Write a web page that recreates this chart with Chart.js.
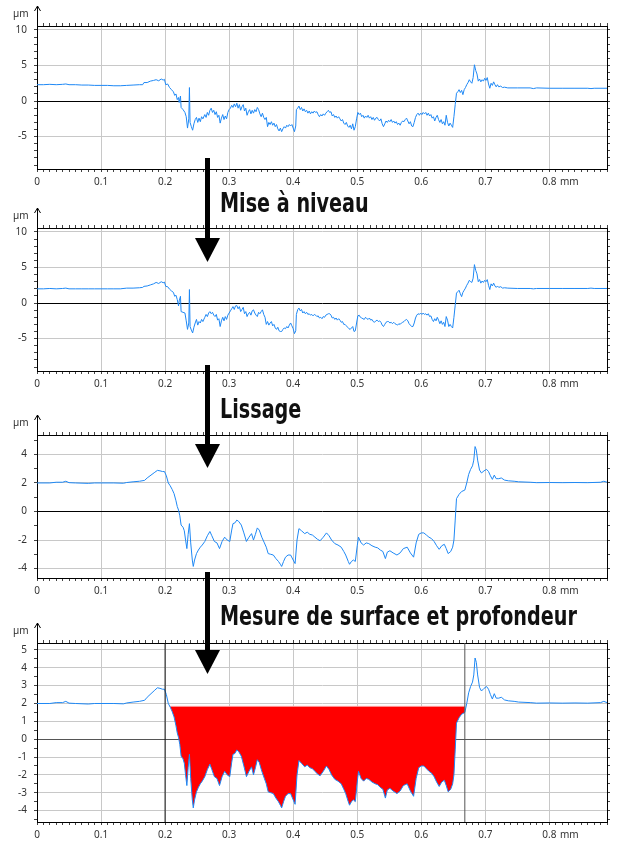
<!DOCTYPE html>
<html>
<head>
<meta charset="utf-8">
<title>Profil de rayure</title>
<script src="https://cdn.jsdelivr.net/npm/chart.js"></script>
<style>
  body { margin: 0; background: #fff; }
  #page { position: relative; width: 622px; height: 843px; overflow: hidden; }
  #page canvas { position: absolute; left: 0; }
  .unit { position: absolute; font: 10px "Noto Sans", sans-serif; line-height: 12px; color: #333; white-space: nowrap; }
  .step { position: absolute; left: 220px; font-family: "Liberation Sans Narrow", "DejaVu Sans Condensed", sans-serif;
          font-weight: bold; font-size: 26px; line-height: 26px; color: #111; white-space: nowrap;
          transform: scaleX(0.82); transform-origin: 0 0; }
  #arrows { position: absolute; left: 0; top: 0; }
</style>
</head>
<body>
<div id="page">
  <canvas id="c1" width="622" height="195" style="top:0px"></canvas>
  <canvas id="c2" width="622" height="195" style="top:202px"></canvas>
  <canvas id="c3" width="622" height="195" style="top:409px"></canvas>
  <canvas id="c4" width="622" height="226" style="top:617px"></canvas>

  <div class="unit" style="left:13px; top:7px">µm</div>
  <div class="unit" style="left:13px; top:209px">µm</div>
  <div class="unit" style="left:13px; top:416px">µm</div>
  <div class="unit" style="left:13px; top:624px">µm</div>
  <div class="unit" style="left:560px; top:175px">mm</div>
  <div class="unit" style="left:560px; top:377px">mm</div>
  <div class="unit" style="left:560px; top:584px">mm</div>
  <div class="unit" style="left:560px; top:828px">mm</div>

  <div class="step" style="top:190px">Mise à niveau</div>
  <div class="step" style="top:396px">Lissage</div>
  <div class="step" style="top:603px">Mesure de surface et profondeur</div>

  <svg id="arrows" width="622" height="843">
    <g fill="#000">
      <rect x="205" y="158" width="5" height="81"/>
      <polygon points="195,238 220,238 207.5,262"/>
      <rect x="205" y="365" width="5" height="80"/>
      <polygon points="195,444 220,444 207.5,468"/>
      <rect x="205" y="572" width="5" height="79"/>
      <polygon points="195,650 220,650 207.5,674"/>
    </g>
  </svg>
</div>

<script>
// raw profile (panels 1 and 2), x in mm
const rawX = [
  0, 0.01, 0.02, 0.03, 0.04, 0.045, 0.05, 0.06, 0.07, 0.08,
  0.09, 0.1, 0.11, 0.12, 0.13, 0.14, 0.15, 0.16, 0.165, 0.167,
  0.172, 0.177, 0.182, 0.186, 0.19, 0.194, 0.197, 0.199, 0.201, 0.204,
  0.207, 0.21, 0.213, 0.215, 0.217, 0.219, 0.221, 0.222, 0.224, 0.225,
  0.228, 0.231, 0.233, 0.235, 0.237, 0.238, 0.239, 0.241, 0.243, 0.245,
  0.247, 0.249, 0.251, 0.253, 0.255, 0.257, 0.259, 0.262, 0.264, 0.266,
  0.268, 0.27, 0.272, 0.274, 0.276, 0.278, 0.28, 0.282, 0.284, 0.286,
  0.288, 0.29, 0.292, 0.294, 0.296, 0.298, 0.3, 0.302, 0.304, 0.306,
  0.308, 0.31, 0.312, 0.314, 0.316, 0.318, 0.32, 0.322, 0.324, 0.326,
  0.328, 0.33, 0.332, 0.334, 0.336, 0.338, 0.34, 0.342, 0.344, 0.346,
  0.348, 0.35, 0.352, 0.354, 0.356, 0.358, 0.36, 0.362, 0.364, 0.366,
  0.368, 0.37, 0.372, 0.374, 0.376, 0.378, 0.38, 0.382, 0.384, 0.386,
  0.388, 0.39, 0.392, 0.394, 0.396, 0.398, 0.4, 0.402, 0.404, 0.405,
  0.407, 0.409, 0.411, 0.413, 0.415, 0.417, 0.419, 0.421, 0.423, 0.425,
  0.427, 0.429, 0.431, 0.433, 0.435, 0.437, 0.439, 0.441, 0.443, 0.445,
  0.447, 0.449, 0.451, 0.453, 0.455, 0.457, 0.459, 0.461, 0.463, 0.465,
  0.467, 0.469, 0.471, 0.473, 0.475, 0.477, 0.479, 0.481, 0.483, 0.485,
  0.487, 0.489, 0.491, 0.493, 0.495, 0.497, 0.499, 0.501, 0.503, 0.505,
  0.507, 0.509, 0.511, 0.513, 0.515, 0.517, 0.519, 0.521, 0.523, 0.525,
  0.527, 0.529, 0.531, 0.533, 0.535, 0.537, 0.539, 0.541, 0.543, 0.545,
  0.547, 0.549, 0.551, 0.553, 0.555, 0.557, 0.559, 0.561, 0.563, 0.565,
  0.567, 0.569, 0.571, 0.573, 0.575, 0.577, 0.579, 0.581, 0.583, 0.585,
  0.587, 0.589, 0.591, 0.593, 0.595, 0.597, 0.599, 0.601, 0.603, 0.605,
  0.607, 0.609, 0.611, 0.613, 0.615, 0.617, 0.619, 0.621, 0.623, 0.625,
  0.627, 0.629, 0.631, 0.633, 0.635, 0.637, 0.639, 0.641, 0.643, 0.645,
  0.647, 0.649, 0.651, 0.653, 0.655, 0.657, 0.659, 0.661, 0.663, 0.665,
  0.667, 0.669, 0.671, 0.673, 0.675, 0.677, 0.679, 0.681, 0.683, 0.685,
  0.687, 0.689, 0.691, 0.693, 0.695, 0.697, 0.699, 0.701, 0.703, 0.705,
  0.707, 0.709, 0.711, 0.713, 0.715, 0.717, 0.719, 0.721, 0.724, 0.727,
  0.73, 0.735, 0.75, 0.77, 0.775, 0.78, 0.8, 0.82, 0.84, 0.86,
  0.865, 0.87, 0.89
];

// height before levelling (µm)
const rawZ = [
  2.3, 2.3, 2.35, 2.3, 2.35, 2.4, 2.3, 2.3, 2.25, 2.25,
  2.2, 2.2, 2.2, 2.15, 2.15, 2.2, 2.25, 2.3, 2.3, 2.6,
  2.6, 2.8, 2.9, 3.0, 2.85, 3.1, 2.95, 3.05, 2.3, 2.4,
  1.9, 1.6, 1.3, 0.8, 1.0, 0.2, 0.5, -0.2, 0.7, -0.9,
  -1.2, -1.6, -2.2, -3.8, -2.5, 1.9, -3.0, -3.6, -4.1, -3.2,
  -2.6, -2.3, -3.0, -2.4, -2.9, -2.2, -2.5, -1.9, -2.3, -1.6,
  -2.0, -1.3, -1.0, -1.6, -1.3, -1.9, -1.5, -2.3, -2.0, -3.1,
  -2.4, -1.9, -2.6, -2.1, -2.5, -1.6, -1.2, -1.0, -0.6, -0.9,
  -0.4, -0.8, -0.3, -1.0, -0.5, -1.3, -0.8, -0.5, -1.4, -1.0,
  -2.0, -1.5, -1.2, -1.8, -1.3, -1.7, -1.2, -1.5, -0.9, -1.2,
  -1.8, -2.2, -1.7, -2.3, -2.6, -2.3, -3.6, -3.0, -3.3, -2.9,
  -3.4, -3.1, -3.6, -3.3, -3.9, -4.2, -3.8, -4.3, -3.9, -3.6,
  -3.8, -3.4, -3.6, -3.3, -3.5, -3.3, -3.8, -4.3, -3.5, -1.2,
  -1.0, -0.7, -1.2, -0.9, -1.4, -1.1, -1.5, -1.3, -1.7, -1.4,
  -1.8, -1.5, -1.7, -1.4, -1.6, -1.5, -1.9, -2.2, -1.9, -2.1,
  -1.8, -2.0, -1.7, -1.5, -1.3, -1.6, -1.5, -2.1, -1.9, -2.3,
  -2.1, -2.4, -2.2, -2.5, -2.8, -2.6, -3.1, -3.3, -3.0, -3.5,
  -3.7, -3.4, -3.9, -3.2, -4.1, -3.6, -2.5, -1.6, -1.9, -1.7,
  -2.2, -2.0, -2.4, -2.1, -2.3, -2.0, -2.4, -2.2, -2.6, -2.3,
  -2.7, -2.4, -2.3, -2.6, -2.8, -2.5, -3.2, -3.6, -3.2, -2.8,
  -3.0, -2.7, -2.9, -2.6, -3.0, -2.8, -3.1, -2.9, -3.3, -3.1,
  -3.4, -3.0, -2.8, -2.9, -2.6, -2.4, -2.8, -3.2, -2.9, -3.5,
  -3.6, -3.0, -2.3, -1.9, -1.7, -2.0, -1.7, -1.9, -1.6, -1.8,
  -1.6, -2.0, -1.7, -2.1, -1.9, -2.4, -2.2, -2.8, -2.3, -2.0,
  -2.6, -3.0, -2.6, -3.2, -2.9, -3.4, -2.0, -3.0, -3.5, -3.1,
  -3.4, -3.7, -2.2, -0.5, 1.1, 1.3, 1.6, 1.2, 1.5, 0.9,
  1.6, 1.9, 2.3, 2.6, 3.0, 2.7, 2.5, 3.3, 5.1, 4.3,
  3.8, 2.8, 3.1, 2.7, 3.0, 2.8, 3.2, 2.9, 3.3, 2.4,
  1.8, 2.5, 2.2, 2.7, 2.3, 2.0, 2.3, 2.0, 2.1, 1.9,
  1.95, 1.85, 1.85, 1.85, 1.75, 1.85, 1.8, 1.8, 1.8, 1.8,
  1.75, 1.8, 1.8
];

// height after levelling (µm)
const levelZ = [
  2.0, 2.0, 2.05, 2.0, 2.05, 2.1, 2.0, 2.0, 2.0, 2.0,
  2.0, 2.0, 2.0, 2.0, 2.0, 2.1, 2.1, 2.15, 2.2, 2.35,
  2.4, 2.55, 2.7, 2.9, 2.75, 3.0, 2.85, 2.95, 2.35, 2.3,
  1.95, 1.7, 1.5, 0.95, 1.1, 0.5, -0.4, 0.3, 0.95, -1.2,
  -1.3, -1.4, -2.5, -3.7, -2.8, 1.9, -3.3, -3.8, -4.2, -3.4,
  -2.8, -2.3, -3.1, -2.6, -2.8, -2.3, -2.6, -2.0, -1.6, -1.9,
  -1.4, -1.2, -1.5, -1.3, -1.7, -1.9, -1.6, -2.4, -2.2, -3.3,
  -2.5, -2.0, -2.5, -1.9, -2.3, -1.7, -1.4, -1.1, -0.8, -0.5,
  -0.9, -0.4, -0.35, -0.8, -0.5, -1.2, -0.9, -0.6, -1.5, -1.2,
  -1.9, -1.5, -1.3, -1.7, -1.1, -0.95, -1.4, -1.7, -1.9, -1.3,
  -1.5, -1.2, -0.95, -1.6, -2.0, -3.0, -2.6, -3.1, -2.8, -2.6,
  -3.2, -3.0, -3.5, -3.7, -3.4, -3.9, -4.0, -4.0, -3.7, -3.5,
  -3.6, -3.3, -3.5, -3.1, -2.8, -3.2, -3.6, -4.3, -3.9, -1.6,
  -0.95, -0.7, -1.1, -0.9, -1.4, -1.2, -1.5, -1.3, -1.6, -1.5,
  -1.7, -1.6, -1.8, -1.6, -1.7, -1.9, -1.8, -2.1, -2.0, -2.2,
  -1.9, -2.0, -1.7, -1.6, -1.5, -1.5, -1.7, -2.1, -2.0, -2.3,
  -2.1, -2.4, -2.2, -2.4, -2.7, -2.6, -3.0, -3.0, -3.2, -3.4,
  -3.6, -3.7, -3.5, -3.3, -4.0, -3.9, -2.8, -1.8, -1.7, -2.0,
  -2.1, -2.2, -2.3, -2.0, -2.2, -2.3, -2.1, -2.4, -2.3, -2.6,
  -2.7, -2.5, -2.4, -2.6, -2.5, -2.7, -3.1, -3.3, -3.0, -2.7,
  -2.6, -2.6, -2.8, -2.7, -2.9, -2.7, -2.9, -3.0, -3.1, -2.9,
  -3.0, -2.8, -2.7, -2.6, -2.4, -2.3, -2.5, -2.9, -3.1, -3.3,
  -3.3, -2.8, -2.1, -1.7, -1.5, -1.6, -1.4, -1.6, -1.4, -1.6,
  -1.5, -1.7, -1.5, -1.9, -1.8, -2.3, -2.6, -2.2, -2.5, -2.0,
  -2.4, -2.9, -2.5, -3.0, -2.7, -3.3, -1.9, -2.4, -3.3, -3.0,
  -3.3, -3.5, -2.0, -0.3, 1.4, 1.6, 1.8, 1.3, 0.9, 1.5,
  1.8, 2.1, 2.5, 2.8, 3.2, 3.0, 2.9, 3.5, 5.4, 4.6,
  4.1, 3.0, 3.3, 2.8, 3.1, 2.9, 3.2, 3.0, 3.3, 2.5,
  1.9, 2.7, 2.4, 2.8, 2.4, 2.2, 2.4, 2.2, 2.3, 2.1,
  2.15, 2.1, 2.05, 2.05, 2.0, 2.05, 2.05, 2.05, 2.05, 2.05,
  2.1, 2.05, 2.05
];

// smoothed profile (panels 3 and 4)
const smoothX = [
  0, 0.02, 0.03, 0.04, 0.045, 0.05, 0.06, 0.08, 0.09, 0.12,
  0.135, 0.14, 0.15, 0.16, 0.168, 0.172, 0.178, 0.184, 0.188, 0.192,
  0.196, 0.199, 0.202, 0.205, 0.208, 0.211, 0.214, 0.217, 0.219, 0.221,
  0.223, 0.225, 0.228, 0.23, 0.232, 0.234, 0.236, 0.238, 0.24, 0.2425,
  0.244, 0.246, 0.249, 0.252, 0.255, 0.258, 0.262, 0.266, 0.27, 0.273,
  0.277, 0.281, 0.285, 0.289, 0.293, 0.297, 0.301, 0.304, 0.306, 0.309,
  0.312, 0.315, 0.319, 0.323, 0.327, 0.331, 0.335, 0.338, 0.341, 0.344,
  0.347, 0.351, 0.355, 0.358, 0.361, 0.365, 0.369, 0.373, 0.377, 0.38,
  0.382, 0.385, 0.388, 0.392, 0.396, 0.4, 0.403, 0.406, 0.409, 0.413,
  0.418, 0.422, 0.426, 0.43, 0.434, 0.438, 0.442, 0.447, 0.452, 0.456,
  0.46, 0.465, 0.47, 0.475, 0.479, 0.482, 0.486, 0.488, 0.491, 0.494,
  0.497, 0.5, 0.502, 0.506, 0.51, 0.514, 0.518, 0.523, 0.528, 0.532,
  0.536, 0.54, 0.544, 0.547, 0.551, 0.556, 0.562, 0.567, 0.572, 0.578,
  0.583, 0.588, 0.592, 0.596, 0.6, 0.604, 0.608, 0.612, 0.616, 0.62,
  0.624, 0.628, 0.632, 0.636, 0.639, 0.642, 0.646, 0.649, 0.651, 0.653,
  0.655, 0.659, 0.663, 0.668, 0.671, 0.674, 0.677, 0.68, 0.682, 0.684,
  0.686, 0.688, 0.691, 0.694, 0.698, 0.702, 0.705, 0.708, 0.711, 0.714,
  0.717, 0.721, 0.725, 0.73, 0.736, 0.745, 0.752, 0.77, 0.78, 0.8,
  0.82, 0.84, 0.86, 0.88, 0.885, 0.89
];
const smoothZ = [
  2.0, 2.0, 2.05, 2.05, 2.12, 2.02, 2.0, 1.97, 2.0, 2.0,
  1.98, 2.03, 2.08, 2.12, 2.18, 2.35, 2.55, 2.75, 2.88, 2.85,
  2.8, 2.8, 2.5, 2.0, 1.8, 1.55, 1.25, 0.75, 0.35, 0.1,
  -0.3, -0.95, -1.1, -1.35, -2.0, -2.6, -1.6, -0.85, -2.2, -3.4,
  -3.85, -3.4, -2.95, -2.7, -2.5, -2.35, -2.1, -1.7, -1.4, -1.7,
  -2.1, -2.2, -2.6, -2.1, -1.8, -2.0, -2.1, -1.3, -0.85, -0.8,
  -0.6, -0.7, -0.95, -1.5, -2.1, -1.8, -1.55, -2.0, -1.6, -1.15,
  -1.3, -1.8, -2.2, -2.5, -2.95, -3.0, -3.05, -3.3, -3.5, -3.7,
  -3.85, -3.5, -3.2, -3.05, -3.05, -3.4, -3.65, -2.0, -1.2, -1.35,
  -1.55, -1.45, -1.6, -1.65, -1.8, -1.95, -2.05, -1.8, -1.5, -1.7,
  -2.0, -2.25, -2.35, -2.5, -2.8, -3.05, -3.5, -3.7, -3.5, -3.4,
  -3.5, -2.4, -1.8, -2.2, -2.35, -2.2, -2.25, -2.4, -2.5, -2.55,
  -2.7, -2.8, -3.3, -2.85, -2.75, -2.9, -3.05, -2.9, -2.6, -2.5,
  -2.9, -3.2, -2.2, -1.6, -1.5, -1.5, -1.65, -1.8, -1.9, -2.1,
  -2.4, -2.65, -2.4, -2.3, -2.6, -2.95, -2.8, -2.5, -2.0, -0.6,
  0.9, 1.2, 1.4, 1.5, 2.0, 2.6, 2.95, 3.2, 3.6, 4.55,
  4.3, 3.6, 2.9, 2.7, 2.85, 2.95, 2.8, 2.5, 2.25, 2.55,
  2.3, 2.3, 2.35, 2.2, 2.15, 2.12, 2.08, 2.05, 2.02, 2.03,
  2.02, 2.03, 2.02, 2.05, 2.12, 2.05
];

// measurement in panel 4
const cursorX = [0.2, 0.668];
const cavityFrom = 0.207;
const cavityTo = 0.668;
const depthLevel = 1.84;

const xMax = 0.89;

const lineBlue = '#1e88f5';
const gridGrey = '#c8c8c8';

function isMult(v, s) {
  const r = v / s;
  return Math.abs(r - Math.round(r)) < 1e-6;
}

function toPoints(xs, zs) {
  return xs.map((x, i) => ({ x: x, y: zs[i] }));
}

// y axis line going up past the frame, with a small arrow head
const axisArrow = {
  id: 'axisArrow',
  afterDraw(chart) {
    const ctx = chart.ctx;
    const a = chart.chartArea;
    const x = a.left + 0.5;
    ctx.save();
    ctx.strokeStyle = '#000';
    ctx.lineWidth = 1;
    ctx.beginPath();
    ctx.moveTo(x, a.top);
    ctx.lineTo(x, a.top - 20);
    ctx.moveTo(x - 3, a.top - 15);
    ctx.lineTo(x, a.top - 20);
    ctx.lineTo(x + 3, a.top - 15);
    ctx.stroke();
    ctx.restore();
  }
};

function profileChart(id, datasets, p) {
  const tickFont = { family: 'Noto Sans', size: 10 };
  return new Chart(document.getElementById(id), {
    type: 'line',
    data: { datasets: datasets },
    options: {
      responsive: false,
      animation: false,
      devicePixelRatio: 1,
      layout: { padding: 0 },
      plugins: { legend: { display: false }, tooltip: { enabled: false } },
      elements: { point: { radius: 0 }, line: { tension: 0, borderWidth: 1 } },
      scales: {
        x: {
          type: 'linear', position: 'bottom', min: 0, max: xMax,
          ticks: {
            stepSize: 0.01, autoSkip: false, maxRotation: 0, padding: 4,
            color: '#333', font: tickFont,
            callback: v => isMult(v, 0.1) ? String(Math.round(v * 10) / 10) : ''
          },
          grid: {
            color: c => isMult(c.tick.value, 0.1) ? gridGrey : 'rgba(0,0,0,0)',
            tickColor: '#444', tickLength: 3
          },
          border: { color: '#000' },
          afterFit: s => { s.height = p.bottom; }
        },
        xTop: {
          type: 'linear', axis: 'x', position: 'top', min: 0, max: xMax,
          ticks: { stepSize: 0.01, autoSkip: false, display: false },
          grid: { drawOnChartArea: false, tickColor: '#444', tickLength: 3 },
          border: { color: '#000' },
          afterFit: s => { s.height = 26; }
        },
        y: {
          type: 'linear', position: 'left', min: p.yMin, max: p.yMax,
          ticks: {
            stepSize: p.yStep, includeBounds: false, autoSkip: false, padding: 7,
            color: '#333', font: tickFont,
            callback: v => isMult(v, p.yLabel) ? String(Math.round(v)) : ''
          },
          grid: {
            color: c => Math.abs(c.tick.value) < 1e-9 ? p.zeroColor
              : (isMult(c.tick.value, p.yLabel) ? gridGrey : 'rgba(0,0,0,0)'),
            tickColor: '#444', tickLength: 3
          },
          border: { color: '#000' },
          afterFit: s => { s.width = 37; }
        },
        yRight: {
          type: 'linear', axis: 'y', position: 'right', min: p.yMin, max: p.yMax,
          ticks: { stepSize: p.yStep, includeBounds: false, autoSkip: false, display: false },
          grid: { drawOnChartArea: false, tickColor: '#444', tickLength: 3 },
          border: { color: '#000' },
          afterFit: s => { s.width = 15; }
        }
      }
    },
    plugins: [axisArrow]
  });
}

const wideAxis = { yMin: -9.55, yMax: 10.55, yStep: 1, yLabel: 5, zeroColor: '#000', bottom: 26 };

profileChart('c1', [{ data: toPoints(rawX, rawZ), borderColor: lineBlue }], wideAxis);
profileChart('c2', [{ data: toPoints(rawX, levelZ), borderColor: lineBlue }], wideAxis);
profileChart('c3', [{ data: toPoints(smoothX, smoothZ), borderColor: lineBlue }],
  { yMin: -4.66, yMax: 5.36, yStep: 1, yLabel: 2, zeroColor: '#000', bottom: 26 });

const p4 = { yMin: -4.64, yMax: 5.39, yStep: 0.5, yLabel: 1, zeroColor: '#555', bottom: 21 };
const smoothPts = toPoints(smoothX, smoothZ);
const cavityPts = smoothPts.filter(pt => pt.x >= cavityFrom && pt.x <= cavityTo);

profileChart('c4', [
  { data: smoothPts, borderColor: lineBlue, order: 1 },
  { data: cavityPts, borderWidth: 0, borderColor: 'rgba(0,0,0,0)', backgroundColor: '#ff0000',
    fill: { value: depthLevel }, order: 3 },
  { data: [{ x: cavityFrom, y: depthLevel }, { x: cavityTo, y: depthLevel }],
    borderColor: '#ff9c9c', order: 2 },
  { data: [{ x: cursorX[0], y: p4.yMin }, { x: cursorX[0], y: p4.yMax }], borderColor: '#111', order: 0 },
  { data: [{ x: cursorX[1], y: p4.yMin }, { x: cursorX[1], y: p4.yMax }], borderColor: '#555', order: 0 }
], p4);
</script>
</body>
</html>
